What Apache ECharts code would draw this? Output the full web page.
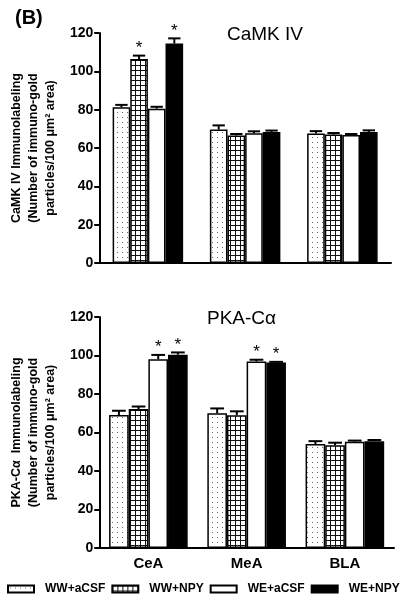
<!DOCTYPE html>
<html><head><meta charset="utf-8">
<script src="https://cdn.jsdelivr.net/npm/echarts@6/dist/echarts.min.js"></script>
<style>html,body{margin:0;padding:0;background:#fff}#c{width:411px;height:600px}</style>
</head><body><div id="c"></div>
<script>
const categories = ['CeA', 'MeA', 'BLA'];
const seriesNames = ['WW+aCSF', 'WW+NPY', 'WE+aCSF', 'WE+NPY'];
const yTicks = [0, 20, 40, 60, 80, 100, 120];

// CaMK IV (top panel)
const camkWWaCSF = [81.2, 69.6, 67.6];
const camkWWNPY  = [106.4, 66.5, 67.0];
const camkWEaCSF = [80.5, 67.7, 66.8];
const camkWENPY  = [114.5, 68.4, 68.4];
const camkErrWWaCSF = [1.3, 2.2, 1.2];
const camkErrWWNPY  = [1.8, 0.8, 0.8];
const camkErrWEaCSF = [1.0, 1.0, 0.5];
const camkErrWENPY  = [2.7, 0.7, 0.8];
const camkStarWWaCSF = [0, 0, 0];
const camkStarWWNPY  = [1, 0, 0];
const camkStarWEaCSF = [0, 0, 0];
const camkStarWENPY  = [1, 0, 0];

// PKA-Calpha (bottom panel)
const pkaWWaCSF = [69.1, 70.0, 54.0];
const pkaWWNPY  = [72.2, 69.0, 53.4];
const pkaWEaCSF = [98.1, 96.9, 55.2];
const pkaWENPY  = [100.4, 96.3, 55.5];
const pkaErrWWaCSF = [2.2, 2.5, 1.5];
const pkaErrWWNPY  = [1.3, 2.0, 1.3];
const pkaErrWEaCSF = [2.2, 0.9, 0.6];
const pkaErrWENPY  = [1.2, 0.4, 0.6];
const pkaStarWWaCSF = [0, 0, 0];
const pkaStarWWNPY  = [0, 0, 0];
const pkaStarWEaCSF = [1, 1, 0];
const pkaStarWENPY  = [1, 1, 0];

function makePattern(type) {
  const c = document.createElement('canvas');
  c.width = 5; c.height = 5;
  const g = c.getContext('2d');
  g.fillStyle = '#fff'; g.fillRect(0, 0, 5, 5);
  if (type === 'dots') { g.fillStyle = '#666'; g.fillRect(2, 2, 1, 1); }
  else if (type === 'grid') { g.fillStyle = '#111'; g.fillRect(0, 0, 5, 1); g.fillRect(0, 0, 1, 5); }
  return c;
}
const fills = [
  { image: makePattern('dots'), repeat: 'repeat' },
  { image: makePattern('grid'), repeat: 'repeat' },
  '#ffffff',
  '#000000'
];

const FONT = '"Liberation Sans", Arial, sans-serif';

const panels = [
  { vals: [camkWWaCSF, camkWWNPY, camkWEaCSF, camkWENPY],
    errs: [camkErrWWaCSF, camkErrWWNPY, camkErrWEaCSF, camkErrWENPY],
    stars: [camkStarWWaCSF, camkStarWWNPY, camkStarWEaCSF, camkStarWENPY],
    gap: 0.275,
    name: 'CaMK IV Immunolabeling\n(Number of immuno-gold\nparticles/100 μm² area)' },
  { vals: [pkaWWaCSF, pkaWWNPY, pkaWEaCSF, pkaWENPY],
    errs: [pkaErrWWaCSF, pkaErrWWNPY, pkaErrWEaCSF, pkaErrWENPY],
    stars: [pkaStarWWaCSF, pkaStarWWNPY, pkaStarWEaCSF, pkaStarWENPY],
    gap: 0.2,
    name: 'PKA-Cα  Immunolabeling\n(Number of immuno-gold\nparticles/100 μm² area)' }
];

const grids = [
  { left: 97, right: 20, top: 33, height: 230 },
  { left: 97, right: 17, top: 317, height: 231 }
];

const xAxes = [], yAxes = [], series = [];
panels.forEach((p, pi) => {
  xAxes.push({
    type: 'category', gridIndex: pi, data: categories,
    axisLine: { lineStyle: { color: '#000', width: 2 } },
    axisTick: { show: false },
    axisLabel: { show: pi === 1, color: '#000', fontFamily: FONT, fontWeight: 'bold', fontSize: 15, margin: 8 }
  });
  yAxes.push({
    type: 'value', gridIndex: pi, min: 0, max: 120, interval: 20,
    name: p.name, nameLocation: 'middle', nameRotate: 90, nameGap: 40,
    nameTextStyle: { color: '#000', fontFamily: FONT, fontWeight: 'bold', fontSize: 12.5, lineHeight: 17 },
    axisLine: { show: true, lineStyle: { color: '#000', width: 2 } },
    axisTick: { show: true, length: 5, lineStyle: { color: '#000', width: 2 } },
    axisLabel: { color: '#000', fontFamily: FONT, fontWeight: 'bold', fontSize: 14, margin: 6,
                 formatter: v => yTicks.indexOf(v) >= 0 ? String(v) : '' },
    splitLine: { show: false }
  });
  p.vals.forEach((arr, k) => {
    series.push({
      type: 'bar', name: seriesNames[k], xAxisIndex: pi, yAxisIndex: pi,
      data: arr, barGap: '0%', barCategoryGap: (p.gap * 100) + '%',
      itemStyle: { color: fills[k], borderColor: '#000', borderWidth: 1.5 },
      emphasis: { disabled: true }, animation: false
    });
  });
  const errData = [];
  p.vals.forEach((arr, k) => arr.forEach((v, ci) => errData.push([ci, v, p.errs[k][ci], p.stars[k][ci], k])));
  const gap = p.gap;
  series.push({
    type: 'custom', xAxisIndex: pi, yAxisIndex: pi, z: 10, animation: false,
    encode: { x: 0, y: 1 },
    data: errData,
    renderItem: function (params, api) {
      const ci = api.value(0), v = api.value(1), e = api.value(2), st = api.value(3), k = api.value(4);
      const catW = api.size([1, 0])[0];
      const bw = catW * (1 - gap) / 4;
      const base = api.coord([ci, v]);
      const cx = base[0] + (k - 1.5) * bw;
      const yTop = base[1];
      const yE = api.coord([ci, v + e])[1];
      const capW = bw * 0.7;
      const children = [
        { type: 'line', shape: { x1: cx, y1: yTop, x2: cx, y2: yE }, style: { stroke: '#000', lineWidth: 2 } },
        { type: 'line', shape: { x1: cx - capW / 2, y1: yE, x2: cx + capW / 2, y2: yE }, style: { stroke: '#000', lineWidth: 2 } }
      ];
      if (st) {
        children.push({ type: 'text', style: { text: '*', x: cx, y: yE + 1, align: 'center', verticalAlign: 'bottom',
          fontSize: 17, fontFamily: FONT, fill: '#000' } });
      }
      return { type: 'group', children: children };
    }
  });
});

const chart = echarts.init(document.getElementById('c'), null, { renderer: 'canvas' });
chart.setOption({
  animation: false,
  backgroundColor: '#fff',
  title: [
    { text: '(B)', left: 10, top: 3, textStyle: { fontFamily: FONT, fontWeight: 'bold', fontSize: 20, color: '#000' } },
    { text: 'CaMK IV', left: 222, top: 20, textStyle: { fontFamily: FONT, fontWeight: 'normal', fontSize: 19, color: '#000' } },
    { text: 'PKA-Cα', left: 202, top: 304, textStyle: { fontFamily: FONT, fontWeight: 'normal', fontSize: 19, color: '#000' } }
  ],
  legend: {
    data: seriesNames, left: 7, top: 583, padding: 0,
    itemWidth: 26, itemHeight: 7, itemGap: 6, icon: 'rect',
    textStyle: { fontFamily: FONT, fontWeight: 'bold', fontSize: 12, color: '#000', padding: [0, 0, 0, 6] },
    selectedMode: false
  },
  grid: grids,
  xAxis: xAxes,
  yAxis: yAxes,
  series: series
});
</script>
</body></html>
